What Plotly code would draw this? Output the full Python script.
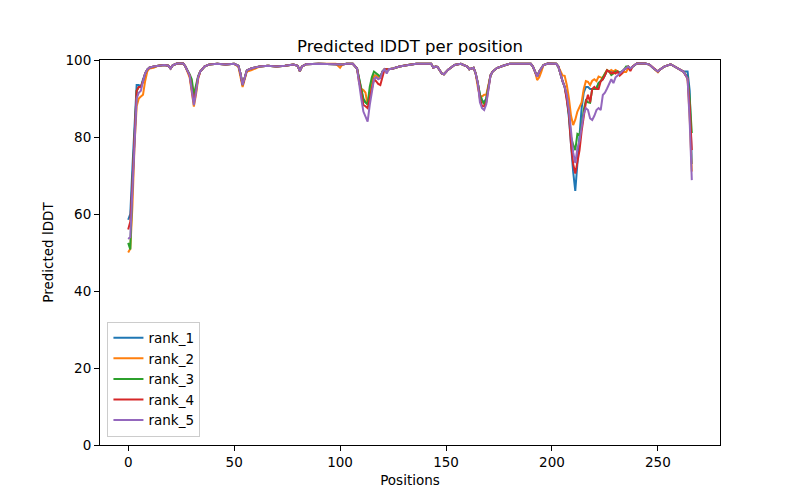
import plotly.graph_objects as go

positions = [
    0, 1, 2, 3, 4, 5, 6, 7, 8, 9, 10,
    12, 14, 17, 19, 20, 21, 23, 26, 27, 29,
    30, 31, 32, 33, 34, 36, 38, 42, 46, 50,
    52, 53, 54, 55, 56, 58, 62, 66, 70, 74,
    78, 80, 81, 82, 84, 90, 95, 98, 100, 101,
    103, 106, 108, 109, 110, 111, 112, 113, 114, 115,
    116, 117, 118, 119, 120, 121, 122, 123, 125, 128,
    132, 136, 140, 143, 144, 145, 146, 148, 149, 151,
    154, 157, 160, 161, 163, 164, 165, 166, 167, 168,
    169, 170, 171, 172, 174, 177, 180, 185, 190, 191,
    192, 193, 194, 195, 196, 198, 202, 203, 204, 205,
    206, 207, 208, 209, 210, 211, 212, 213, 214, 215,
    216, 217, 218, 219, 220, 221, 222, 223, 224, 225,
    226, 227, 228, 229, 230, 231, 232, 233, 234, 235,
    236, 237, 238, 240, 244, 246, 248, 250, 251, 253,
    256, 258, 260, 262, 264, 265, 266,
]

rank_1 = [
    58.5, 60, 72, 84, 93.5, 93.5, 93, 95, 96.5, 97.5, 98,
    98.3, 98.5, 98.7, 98.5, 97.8, 98.6, 99.1, 99.1, 98.3, 96,
    93.5, 89.5, 92.5, 95.5, 97, 98.3, 98.8, 99, 98.8, 99,
    98.5, 96.5, 93.5, 95.5, 97.3, 97.8, 98.3, 98.5, 98.3, 98.5,
    98.8, 98.5, 97.1, 98.3, 98.9, 99, 98.9, 99, 98.8, 98.8,
    99, 99, 97.8, 95, 92, 89.5, 89, 88.5, 91.5, 94,
    96, 96, 95.5, 95.5, 97, 97.6, 97.6, 97.6, 97.8, 98.3,
    98.7, 99, 99, 99, 98, 98.3, 98.2, 96.5, 96.3, 97.5,
    98.7, 99, 98.3, 97.6, 98, 96.5, 94, 91, 89.5, 89,
    90, 93, 96, 97, 97.9, 98.5, 99, 99, 99, 98.3,
    97.2, 95.7, 97, 98, 98.7, 99.1, 99, 98.3, 96, 94.5,
    93, 90, 85, 77, 71, 66, 73, 80, 87.5, 91.5,
    93, 93, 92.5, 92.5, 92.5, 92.7, 94, 94.5, 95, 96,
    97.3, 97, 97, 97, 97.2, 97, 96.8, 97, 97.5, 98,
    98.3, 97.8, 98.3, 99.1, 99.1, 98.8, 97.8, 97, 97.5, 98.3,
    98.9, 98.3, 97.6, 97, 97, 92, 73,
]

rank_2 = [
    50, 51, 62, 78, 88, 90, 90.5, 91, 94.5, 97, 97.8,
    98, 98.5, 98.7, 98.5, 97.8, 98.6, 99.1, 99.1, 98.3, 95.5,
    92, 87.9, 91, 95, 97, 98.3, 98.8, 99, 98.8, 99,
    98.3, 96, 93, 95, 97, 97.3, 98.3, 98.5, 98.3, 98.5,
    98.8, 98.5, 97.1, 98.3, 98.9, 99, 98.9, 99, 98, 98.8,
    99, 99, 97.8, 94, 92.5, 92.2, 91.5, 88.3, 91, 94,
    96, 96, 95.5, 95.5, 97, 97.6, 97.6, 97.6, 97.8, 98.3,
    98.7, 99, 99, 99, 98, 98.3, 98.2, 96.5, 96.3, 97.5,
    98.7, 99, 98.3, 97.6, 98, 96.5, 93, 90.5, 90.5, 91,
    91, 93.5, 96, 97, 97.9, 98.5, 99, 99, 99, 98.3,
    97, 94.8, 95.5, 97, 98.7, 99.1, 99, 98.3, 97, 96,
    95.9, 93.5, 90, 85.5, 83.1, 84.5, 86.6, 87.8, 89, 92.5,
    94.5, 94.3, 93.5, 94.6, 95, 94.5, 95.7, 95.5, 95.3, 96.5,
    97.4, 97, 97.4, 97, 97.4, 97, 96, 96.5, 96.9, 96.9,
    97.8, 97.8, 98.3, 99.1, 99.1, 98.8, 97.8, 96.8, 97.5, 98.3,
    98.9, 98.3, 97.6, 97, 95.2, 85, 71,
]

rank_3 = [
    52.5, 50.8, 68, 82, 92, 93, 93, 94.5, 96.5, 97.5, 98,
    98.3, 98.5, 98.7, 98.5, 97.8, 98.6, 99.1, 99.1, 98.3, 96.3,
    95, 91, 93.5, 95.8, 97, 98.3, 98.8, 99, 98.8, 99,
    98.5, 96.5, 93.5, 95.5, 97.3, 97.8, 98.3, 98.5, 98.3, 98.5,
    98.8, 98.5, 97.1, 98.3, 98.9, 99, 98.9, 99, 98.8, 98.8,
    99, 99, 97.8, 95, 92.5, 90, 89, 88.5, 93, 95.5,
    97, 96.5, 96, 95.7, 97, 97.6, 97.6, 97.6, 97.8, 98.3,
    98.7, 99, 99, 99, 98, 98.3, 98.2, 96.5, 96.3, 97.5,
    98.7, 99, 98.3, 97.6, 98, 96.5, 94, 91, 89.5, 88.5,
    90, 93, 96, 97, 97.9, 98.5, 99, 99, 99, 98.3,
    97.2, 95.7, 97, 98, 98.7, 99.1, 99, 98.3, 96, 94.5,
    93, 90.5, 86, 80, 78, 76.6, 80.8, 80.5, 83, 87,
    89.5, 89, 88.9, 92.5, 92.5, 92.5, 94, 94.5, 95.5, 96.5,
    97.3, 97, 96.1, 96.5, 97, 97, 96.6, 97, 97.5, 98.3,
    98.3, 97.8, 98.3, 99.1, 99.1, 98.8, 97.8, 97, 97.5, 98.3,
    98.9, 98.3, 97.6, 97, 95.5, 90, 81,
]

rank_4 = [
    56, 58, 68, 82, 92, 93, 93, 94.5, 96.5, 97.5, 98,
    98.3, 98.5, 98.7, 98.5, 97.8, 98.6, 99.1, 99.1, 98.3, 96,
    93, 89, 92, 95.5, 97, 98.3, 98.8, 99, 98.8, 99,
    98.5, 96.5, 93.5, 95.5, 97.3, 97.8, 98.3, 98.5, 98.3, 98.5,
    98.8, 98.5, 97.1, 98.3, 98.9, 99, 98.9, 99, 98.8, 98.8,
    99, 99, 97.8, 94.5, 91, 88.3, 88, 87.5, 90, 93,
    95, 94.5, 93.8, 93.5, 96, 97.6, 97.6, 97.6, 97.8, 98.3,
    98.7, 99, 99, 99, 98, 98.3, 98.2, 96.5, 96.3, 97.5,
    98.7, 99, 98.3, 97.6, 98, 96.5, 94, 90, 88, 88,
    89, 93, 96, 97, 97.9, 98.5, 99, 99, 99, 98.3,
    97.2, 95.7, 97, 98, 98.7, 99.1, 99, 98.3, 96, 94.5,
    93, 90, 86, 78, 73, 70.5, 73.5, 76.5, 81.5, 86,
    89, 91, 89, 92.5, 93, 92.5, 92.5, 94.5, 95, 96,
    97.3, 97, 96.5, 96.8, 96.5, 97, 96, 96.5, 97.5, 97.8,
    98.3, 97.1, 98.3, 99.1, 99.1, 98.8, 97.8, 97, 97.5, 98.3,
    98.9, 98.3, 97.6, 97, 95.2, 88, 76.6,
]

rank_5 = [
    53.5, 54, 66, 80, 90, 91.5, 92, 94.5, 96.5, 97.5, 98,
    98.3, 98.5, 98.7, 98.5, 97.8, 98.6, 99.1, 99.1, 98.3, 96,
    92.5, 88.3, 91.5, 95.5, 97, 98.3, 98.8, 99, 98.8, 99,
    98.5, 96.5, 93.5, 95.5, 97.3, 97.8, 98.3, 98.5, 98.3, 98.5,
    98.8, 98.5, 97.1, 98.3, 98.9, 99, 98.9, 99, 98.8, 98.8,
    99, 99, 97.8, 93.5, 90, 86.6, 85.5, 84, 88.3, 92,
    95, 95.5, 95, 95.3, 97, 97.6, 96.5, 97.6, 97.8, 98.3,
    98.7, 99, 99, 99, 98, 98.3, 98.2, 96.5, 96.3, 97.5,
    98.7, 99, 98.3, 97.6, 98, 96.5, 94, 89, 87.5, 87,
    88.5, 93, 96, 97, 97.9, 98.5, 99, 99, 99, 98.3,
    97.2, 95.7, 97, 98, 98.7, 99.1, 99, 98.3, 96, 94.5,
    93, 91, 87, 82, 76, 73.2, 77, 79, 83, 86,
    87.5, 87, 84.8, 84.4, 85.5, 87, 87.5, 87, 90.9, 91.5,
    92.6, 94, 95, 94, 95.5, 96, 96.6, 97, 97.5, 97.9,
    98.3, 97.8, 98.3, 99.1, 99.1, 98.8, 97.8, 97, 97.5, 98.3,
    98.9, 98.3, 97.6, 97, 95.2, 84, 68.8,
]

series_names = ["rank_1", "rank_2", "rank_3", "rank_4", "rank_5"]
series_values = [rank_1, rank_2, rank_3, rank_4, rank_5]
colors = ["#1f77b4", "#ff7f0e", "#2ca02c", "#d62728", "#9467bd"]

for n, v in zip(series_names, series_values):
    assert len(v) == len(positions), f"{n}: {len(v)} vs {len(positions)}"

x_ticks = [0, 50, 100, 150, 200, 250]
y_ticks = [0, 20, 40, 60, 80, 100]

FONT = "DejaVu Sans"

fig = go.Figure()
for n, v, c in zip(series_names, series_values, colors):
    fig.add_trace(go.Scatter(x=positions, y=v, mode="lines", name=n,
                             line=dict(color=c, width=2)))

axis_common = dict(
    showgrid=False, zeroline=False, showline=True, mirror=True,
    linecolor="black", linewidth=1, ticks="outside", ticklen=5,
    tickwidth=1, tickcolor="black",
    tickfont=dict(family=FONT, size=13.5, color="black"),
)

# page body adds an 8px offset; margins compensate so the plot area
# sits at x 100-720, y 60-445 in the 800x500 window
fig.update_layout(
    width=800, height=500,
    margin=dict(l=92, r=88, t=52, b=63),
    paper_bgcolor="white", plot_bgcolor="white",
    font=dict(family=FONT, color="black"),
    title=dict(text="Predicted lDDT per position", x=0.5, xref="paper",
               y=1 - 38 / 500, yref="container", yanchor="middle",
               font=dict(family=FONT, size=16.5, color="black")),
    xaxis=dict(range=[-13.3, 279.3], tickvals=x_ticks,
               ticktext=[str(t) for t in x_ticks],
               title=dict(text="Positions", standoff=6,
                          font=dict(family=FONT, size=13.5, color="black")),
               **axis_common),
    yaxis=dict(range=[0, 100], tickvals=y_ticks,
               ticktext=[str(t) for t in y_ticks],
               title=dict(text="Predicted lDDT", standoff=8,
                          font=dict(family=FONT, size=13.5, color="black")),
               **axis_common),
    legend=dict(x=0.012, y=0.022, xanchor="left", yanchor="bottom",
                bordercolor="#cccccc", borderwidth=1,
                bgcolor="rgba(255,255,255,0.8)",
                font=dict(family=FONT, size=13.5, color="black"),
                tracegroupgap=0),
    showlegend=True,
)

fig.write_html("out.html")
